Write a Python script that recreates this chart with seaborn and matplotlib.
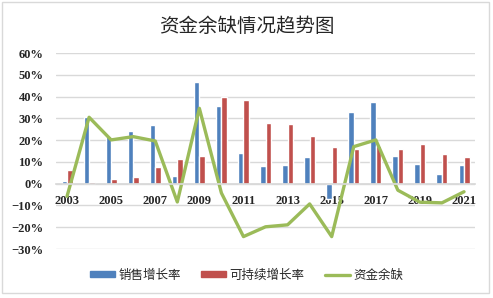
import numpy as np
import pandas as pd
import seaborn as sns
import matplotlib.pyplot as plt
from matplotlib.patches import Rectangle, Patch
from matplotlib.lines import Line2D
from matplotlib.ticker import PercentFormatter

years = [str(y) for y in range(2003, 2022)]
sales_growth = [1.2, 30.7, 22.0, 24.2, 27.0, 3.3, 46.9, 35.5, 14.2, 8.1,
                8.5, 12.2, -7.0, 32.7, 37.3, 12.6, 9.0, 4.4, 8.5]
sustainable_growth = [6.4, 0.8, 2.3, 2.9, 7.5, 11.3, 12.6, 39.6, 38.4, 28.0,
                      27.4, 21.8, 16.8, 16.0, 17.5, 16.0, 18.0, 13.4, 12.3]
fund_gap = [-5.8, 30.5, 20.1, 21.6, 19.6, -8.4, 34.6, -4.3, -24.3, -19.8,
            -18.9, -9.3, -24.3, 17.0, 20.1, -3.0, -8.5, -8.8, -3.7]

sns.set_theme(style="white")
plt.rcParams['font.family'] = ['Noto Sans CJK SC', 'DejaVu Sans']

df = pd.DataFrame({'年份': years, '销售增长率': sales_growth, '可持续增长率': sustainable_growth})
df_long = df.melt(id_vars='年份', var_name='指标', value_name='值')

fig = plt.figure(figsize=(4.93, 2.98), dpi=100)
ax = fig.add_axes([0.1136, 0.1644, 0.85, 0.6577])

sns.barplot(data=df_long, x='年份', y='值', hue='指标', ax=ax,
            palette=['#4f81bd', '#c0504d'], width=0.5, saturation=1, legend=False)
sns.lineplot(x=np.arange(len(years)), y=fund_gap, ax=ax, color='#9bbb59', linewidth=2.4, legend=False)

ax.set_ylim(-30, 60)
ax.set_xlim(-0.5, len(years) - 0.5)
ax.set_yticks(np.arange(-30, 61, 10))
ax.yaxis.set_major_formatter(PercentFormatter(decimals=0))
ax.grid(axis='y', color='#d9d9d9', linewidth=1)
ax.set_axisbelow(True)
for s in ['top', 'right', 'left']:
    ax.spines[s].set_visible(False)
ax.spines['bottom'].set_position(('data', 0))
ax.spines['bottom'].set_color('#d9d9d9')
ax.set_xticks(range(0, len(years), 2))
ax.set_xticklabels(years[::2])
ax.tick_params(axis='x', length=0, pad=8)
ax.tick_params(axis='y', length=0, pad=9)
for lab in ax.get_xticklabels() + ax.get_yticklabels():
    lab.set_family('Liberation Serif')
    lab.set_fontweight('bold')
    lab.set_fontsize(9)
ax.set_xlabel('')
ax.set_ylabel('')

handles = [Patch(color='#4f81bd'), Patch(color='#c0504d'),
           Line2D([0], [0], color='#9bbb59', linewidth=2.4)]
fig.legend(handles, ['销售增长率', '可持续增长率', '资金余缺'], loc='center',
           bbox_to_anchor=(0.5, 0.077), ncol=3, frameon=False, fontsize=9,
           handlelength=2.0, handleheight=0.45, columnspacing=1.6, handletextpad=0.3)

fig.text(0.5, 0.91, '资金余缺情况趋势图', ha='center', va='center', fontsize=14)
fig.patches.append(Rectangle((0.004, 0.017), 0.988, 0.977, transform=fig.transFigure,
                             fill=False, edgecolor='#d9d9d9', linewidth=1))

fig.savefig('out.png', dpi=100)
